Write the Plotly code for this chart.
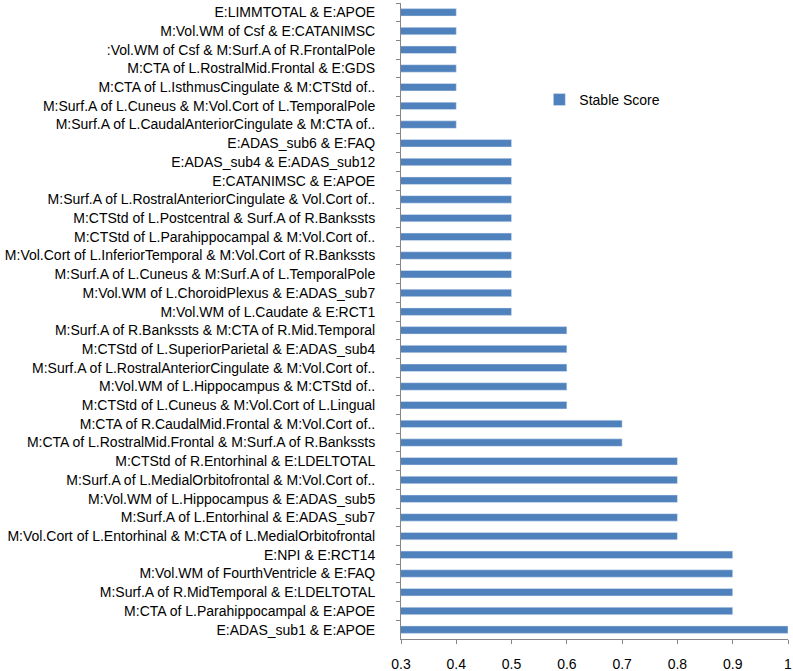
import plotly.graph_objects as go

labels = [
    "E:LIMMTOTAL & E:APOE",
    "M:Vol.WM of Csf & E:CATANIMSC",
    ":Vol.WM of Csf & M:Surf.A of R.FrontalPole",
    "M:CTA of L.RostralMid.Frontal & E:GDS",
    "M:CTA of L.IsthmusCingulate & M:CTStd of..",
    "M:Surf.A of L.Cuneus & M:Vol.Cort of L.TemporalPole",
    "M:Surf.A of L.CaudalAnteriorCingulate & M:CTA of..",
    "E:ADAS_sub6 & E:FAQ",
    "E:ADAS_sub4 & E:ADAS_sub12",
    "E:CATANIMSC & E:APOE",
    "M:Surf.A of L.RostralAnteriorCingulate & Vol.Cort of..",
    "M:CTStd of L.Postcentral & Surf.A of R.Bankssts",
    "M:CTStd of L.Parahippocampal & M:Vol.Cort of..",
    "M:Vol.Cort of L.InferiorTemporal & M:Vol.Cort of R.Bankssts",
    "M:Surf.A of L.Cuneus & M:Surf.A of L.TemporalPole",
    "M:Vol.WM of L.ChoroidPlexus & E:ADAS_sub7",
    "M:Vol.WM of L.Caudate & E:RCT1",
    "M:Surf.A of R.Bankssts & M:CTA of R.Mid.Temporal",
    "M:CTStd of L.SuperiorParietal & E:ADAS_sub4",
    "M:Surf.A of L.RostralAnteriorCingulate & M:Vol.Cort of..",
    "M:Vol.WM of L.Hippocampus & M:CTStd of..",
    "M:CTStd of L.Cuneus & M:Vol.Cort of L.Lingual",
    "M:CTA of R.CaudalMid.Frontal & M:Vol.Cort of..",
    "M:CTA of L.RostralMid.Frontal & M:Surf.A of R.Bankssts",
    "M:CTStd of R.Entorhinal & E:LDELTOTAL",
    "M:Surf.A of L.MedialOrbitofrontal & M:Vol.Cort of..",
    "M:Vol.WM of L.Hippocampus & E:ADAS_sub5",
    "M:Surf.A of L.Entorhinal & E:ADAS_sub7",
    "M:Vol.Cort of L.Entorhinal & M:CTA of L.MedialOrbitofrontal",
    "E:NPI & E:RCT14",
    "M:Vol.WM of FourthVentricle & E:FAQ",
    "M:Surf.A of R.MidTemporal & E:LDELTOTAL",
    "M:CTA of L.Parahippocampal & E:APOE",
    "E:ADAS_sub1 & E:APOE",
]
stable_score = [
    0.4, 0.4, 0.4, 0.4, 0.4, 0.4, 0.4,
    0.5, 0.5, 0.5, 0.5, 0.5, 0.5, 0.5, 0.5, 0.5, 0.5,
    0.6, 0.6, 0.6, 0.6, 0.6,
    0.7, 0.7,
    0.8, 0.8, 0.8, 0.8, 0.8,
    0.9, 0.9, 0.9, 0.9,
    1.0,
]
x_ticks = [0.3, 0.4, 0.5, 0.6, 0.7, 0.8, 0.9, 1]
x_ticktext = ["0.3", "0.4", "0.5", "0.6", "0.7", "0.8", "0.9", "1"]

fig = go.Figure()
fig.add_trace(go.Bar(
    x=stable_score, y=labels, orientation="h", name="Stable Score",
    marker=dict(color="#4F81BD"), showlegend=True,
))

fig.update_layout(
    width=793, height=671,
    margin=dict(l=401, r=5, t=3, b=32, autoexpand=False),
    paper_bgcolor="white", plot_bgcolor="white",
    font=dict(family="Liberation Sans, Arial, sans-serif", size=14, color="black"),
    bargap=0.6,
    legend=dict(x=0.3575, y=0.8475, xanchor="left", yanchor="middle",
                bgcolor="rgba(0,0,0,0)", font=dict(size=14)),
    xaxis=dict(range=[0.3, 1.0], tickvals=x_ticks, ticktext=x_ticktext,
               showgrid=False, zeroline=False, showline=True,
               linecolor="#868686", linewidth=1, ticks="outside",
               ticklen=4, tickcolor="#868686", ticklabelstandoff=8),
    yaxis=dict(autorange="reversed", showgrid=False, showline=True,
               linecolor="#868686", linewidth=1, ticks="outside",
               tickson="boundaries", ticklen=4, tickcolor="#868686",
               ticklabelstandoff=22),
)

fig.write_html("out.html", config={"displayModeBar": False},
               post_script="document.body.style.margin='0';")
